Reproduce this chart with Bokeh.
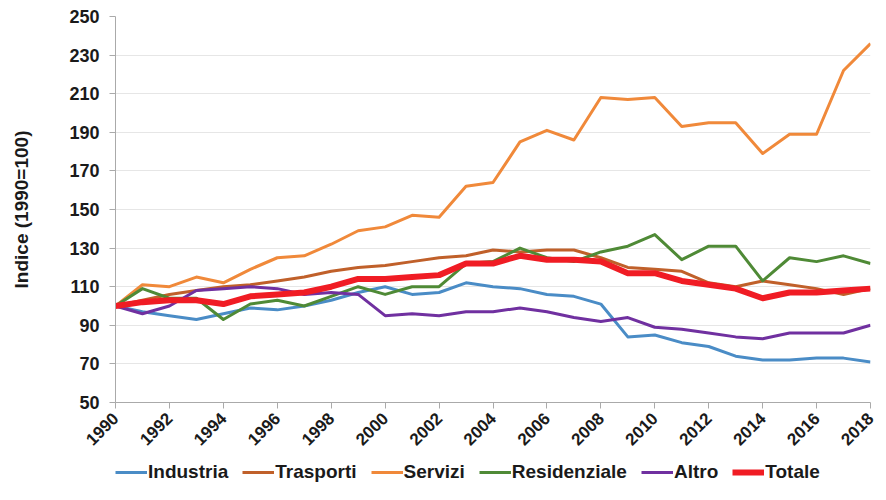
import math
from bokeh.plotting import figure
from bokeh.layouts import column
from bokeh.models import Legend, LegendItem, FixedTicker, Range1d
from bokeh.embed import file_html
from bokeh.resources import INLINE

years = list(range(1990, 2019))
industria = [100, 97, 95, 93, 96, 99, 98, 100, 103, 107, 110, 106, 107, 112, 110, 109, 106, 105, 101, 84, 85, 81, 79, 74, 72, 72, 73, 73, 71]
trasporti = [100, 103, 106, 108, 110, 111, 113, 115, 118, 120, 121, 123, 125, 126, 129, 128, 129, 129, 125, 120, 119, 118, 112, 110, 113, 111, 109, 106, 109]
servizi = [100, 111, 110, 115, 112, 119, 125, 126, 132, 139, 141, 147, 146, 162, 164, 185, 191, 186, 208, 207, 208, 193, 195, 195, 179, 189, 189, 222, 236]
residenziale = [100, 109, 104, 104, 93, 101, 103, 100, 105, 110, 106, 110, 110, 122, 123, 130, 125, 123, 128, 131, 137, 124, 131, 131, 113, 125, 123, 126, 122]
altro = [100, 96, 100, 108, 109, 110, 109, 106, 107, 106, 95, 96, 95, 97, 97, 99, 97, 94, 92, 94, 89, 88, 86, 84, 83, 86, 86, 86, 90]
totale = [100, 102, 103, 103, 101, 105, 106, 107, 110, 114, 114, 115, 116, 122, 122, 126, 124, 124, 123, 117, 117, 113, 111, 109, 104, 107, 107, 108, 109]

series_names = ["Industria", "Trasporti", "Servizi", "Residenziale", "Altro", "Totale"]
series_data = [industria, trasporti, servizi, residenziale, altro, totale]
colors = ["#4a8cc6", "#c0602a", "#f0893a", "#4f8a36", "#7030a0", "#f01c24"]
widths = [3, 3, 3, 3, 3, 6]

y_ticks = list(range(50, 251, 20))
x_ticks = list(range(1990, 2019, 2))

FONT = "Liberation Sans"

p = figure(width=878, height=458, output_backend="svg", toolbar_location=None,
           x_range=Range1d(1990, 2018), y_range=Range1d(50, 250),
           min_border_left=115, min_border_right=8, min_border_top=16, min_border_bottom=56)
p.outline_line_color = None
p.background_fill_color = "white"

for name, data, c, w in zip(series_names, series_data, colors, widths):
    p.line(years, data, line_color=c, line_width=w, line_join="round")

p.xgrid.grid_line_color = None
p.ygrid.grid_line_color = "#e6e6e6"
p.ygrid.grid_line_width = 1
p.yaxis.ticker = FixedTicker(ticks=y_ticks)
p.xaxis.ticker = FixedTicker(ticks=x_ticks)
p.xaxis.major_label_orientation = math.pi / 4

for ax in (p.xaxis, p.yaxis):
    ax.axis_line_color = "#aaaaaa"
    ax.major_tick_line_color = "#aaaaaa"
    ax.major_tick_in = 0
    ax.major_tick_out = 6
    ax.minor_tick_line_color = None
    ax.major_label_text_font = FONT
    ax.major_label_text_font_style = "bold"
    ax.major_label_text_color = "#1a1a1a"

p.yaxis.major_label_text_font_size = "18px"
p.xaxis.major_label_text_font_size = "17px"

p.yaxis.axis_label = "Indice (1990=100)"
p.yaxis.axis_label_text_font = FONT
p.yaxis.axis_label_text_font_style = "bold"
p.yaxis.axis_label_text_font_size = "19px"
p.yaxis.axis_label_text_color = "#1a1a1a"
p.yaxis.axis_label_standoff = 34
p.yaxis.major_label_standoff = 10
p.xaxis.major_label_standoff = 7

# legend strip (series lines drawn off-range; only the legend is visible)
lg = figure(width=878, height=26, output_backend="svg", toolbar_location=None,
            x_axis_type=None, y_axis_type=None,
            x_range=Range1d(0, 1), y_range=Range1d(0, 1),
            min_border_left=0, min_border_right=0, min_border_top=0, min_border_bottom=0)
lg.outline_line_color = None
lg.xgrid.grid_line_color = None
lg.ygrid.grid_line_color = None

items = []
for name, data, c, w in zip(series_names, series_data, colors, widths):
    r = lg.line(years, data, line_color=c, line_width=w)
    items.append(LegendItem(label=name, renderers=[r]))

legend = Legend(items=items, orientation="horizontal", location=(0, 1))
legend.label_text_font = FONT
legend.label_text_font_style = "bold"
legend.label_text_font_size = "19px"
legend.label_text_color = "#1a1a1a"
legend.glyph_width = 32
legend.glyph_height = 18
legend.label_standoff = 1
legend.spacing = 14
legend.padding = 0
legend.margin = 0
legend.border_line_color = None
legend.background_fill_alpha = 0
lg.add_layout(legend)

layout = column(p, lg, spacing=0)
open("out.html", "w").write(file_html(layout, INLINE))
